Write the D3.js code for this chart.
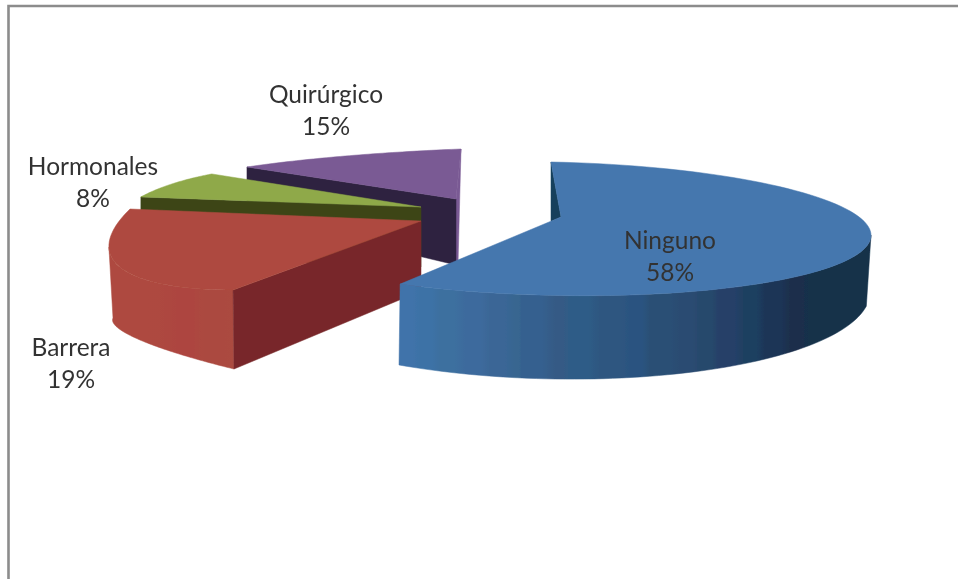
<!DOCTYPE html>
<html><head><meta charset="utf-8">
<style>html,body{margin:0;padding:0;background:#fff}svg{display:block}</style>
<script src="https://d3js.org/d3.v7.min.js"></script></head>
<body><svg id="c" width="958" height="579"></svg>
<script>
const categories = ["Ninguno","Barrera","Hormonales","Quirúrgico"];
const values = [58,19,8,15];

// 3D projection of each exploded slice: point(angle) = c + u*sin(angle) + v*cos(angle)
const projections = [
 {top:{c:[552.4,228.7],u:[318.6,6.3],v:[-1.4,-66.7]}, base:{c:[548,285],u:[322,4.9],v:[-7,-94]},
  apex:[561,217], apexDepth:0, startDepth:0, skinTop:[208.8,90], skinBase:[208.8,100]},
 {top:{c:[472.8,162.6],u:[355.4,-60.9],v:[78.2,-111.9]}, base:{c:[373,362],u:[260,44],v:[15.7,-32.2]},
  apex:[421,221], apexDepth:70, skinTop:[208.8,257], skinBase:[208.8,270]},
 {top:{c:[313,231.9],u:[183.7,27.6],v:[80.7,-60.6]}, apex:[421,207], apexDepth:60, startDepth:60},
 {top:{c:[427.5,174],u:[247.5,-9.5],v:[33.5,-25]}, apex:[456,199], apexDepth:66, startDepth:48}
];
const topColors = ["#4577ae","#ae4a3f","#8fa949","#7a5a94"];
const cutColors = ["#17405c","#78282a","#3c4519","#2e2340"];
// banded skin shading: [page x where the band starts, colour]
const skinBands = [
 [[400,"#4173aa"],[420,"#3c72a6"],[440,"#3d6f9f"],[465,"#3e6b9d"],[490,"#3a6696"],[515,"#376690"],[522,"#35608f"],[555,"#345a85"],[570,"#2d5c87"],[600,"#2f5780"],[630,"#2b5380"],[650,"#2a5075"],[680,"#2b4c72"],[700,"#27486c"],[720,"#253f68"],[745,"#1e3f60"],[765,"#1b3557"],[790,"#1c2f4c"],[810,"#13304a"],[875,"#13304a"]],
 [[100,"#ae4a3f"],[177,"#ad4540"],[205,"#ab4a40"],[236,"#ab4b40"]]
];
const labelPos = [[670,249],[71,356],[93,175],[326,103]];

const svg = d3.select("#c");
const defs = svg.append("defs");
defs.append("filter").attr("id","soft").append("feGaussianBlur").attr("stdDeviation",0.45);

svg.append("path").attr("d","M8.5,579V6H958").attr("fill","none").attr("stroke","#8c8c8c").attr("stroke-width",2.6);

const root = svg.append("g").attr("filter","url(#soft)");
const rad = d => d*Math.PI/180;
const at = (p,a) => [p.c[0]+p.u[0]*Math.sin(a)+p.v[0]*Math.cos(a), p.c[1]+p.u[1]*Math.sin(a)+p.v[1]*Math.cos(a)];
const poly = pts => d3.line()(pts)+"Z";
const arcPts = (p,a0,a1,n=48) => d3.range(n+1).map(i=>at(p,a0+(a1-a0)*i/n));

const arcs = d3.pie().sort(null).value(d=>d)(values);

function fill(pts,color){
  root.append("path").attr("d",poly(pts)).attr("fill",color)
    .attr("stroke",color).attr("stroke-width",0.5).attr("stroke-linejoin","round");
}
function drawSkin(i){
  const pr = projections[i], bands = skinBands[i];
  const x0 = bands[0][0], x1 = bands[bands.length-1][0];
  const off = d3.scaleLinear().domain([x0,x1]).range([0,1]);
  const g = defs.append("linearGradient").attr("id","skin"+i).attr("gradientUnits","userSpaceOnUse")
    .attr("x1",x0).attr("x2",x1).attr("y1",0).attr("y2",0);
  bands.forEach((b,k)=>{
    g.append("stop").attr("offset",off(b[0])).attr("stop-color",b[1]);
    if(k<bands.length-1) g.append("stop").attr("offset",off(b[0]+0.6*(bands[k+1][0]-b[0]))).attr("stop-color",b[1]);
  });
  const [t0,t1] = pr.skinTop.map(rad), [b0,b1] = pr.skinBase.map(rad);
  fill([...arcPts(pr.top,t0,t1,64),...arcPts(pr.base,b1,b0,64)],"url(#skin"+i+")");
}

// back to front: Quirúrgico, Hormonales, Barrera, Ninguno
{
  const i=3,a=arcs[i],pr=projections[i];
  const s=at(pr.top,a.startAngle), e=at(pr.top,a.endAngle);
  fill([e,pr.apex,[pr.apex[0],pr.apex[1]+pr.apexDepth],[pr.apex[0]+2,pr.apex[1]+pr.apexDepth]],topColors[i]);
  fill([s,pr.apex,[pr.apex[0],pr.apex[1]+pr.apexDepth],[s[0],s[1]+pr.startDepth]],cutColors[i]);
  fill([pr.apex,...arcPts(pr.top,a.startAngle,a.endAngle)],topColors[i]);
}
{
  const i=2,a=arcs[i],pr=projections[i];
  const s=at(pr.top,a.startAngle);
  fill([s,pr.apex,[pr.apex[0],pr.apex[1]+pr.apexDepth],[s[0],s[1]+pr.startDepth]],cutColors[i]);
  fill([pr.apex,...arcPts(pr.top,a.startAngle,a.endAngle)],topColors[i]);
}
{
  const i=1,a=arcs[i],pr=projections[i];
  const s=at(pr.top,a.startAngle);
  drawSkin(i);
  fill([pr.apex,[pr.apex[0],pr.apex[1]+pr.apexDepth],at(pr.base,a.startAngle),s],cutColors[i]);
  fill([pr.apex,...arcPts(pr.top,a.startAngle,a.endAngle)],topColors[i]);
}
{
  const i=0,a=arcs[i],pr=projections[i];
  const s=at(pr.top,a.startAngle), e=at(pr.top,a.endAngle);
  const t=(s[0]-pr.apex[0])/(e[0]-pr.apex[0]);
  const meet=[s[0],pr.apex[1]+t*(e[1]-pr.apex[1])];
  fill([s,pr.apex,meet],cutColors[i]);
  drawSkin(i);
  fill([pr.apex,...arcPts(pr.top,a.startAngle,a.endAngle,96)],topColors[i]);
}

const total=d3.sum(values);
const labels = root.append("g").attr("font-family","Lato,sans-serif").attr("font-size",24.5).attr("fill","#333").attr("text-anchor","middle");
categories.forEach((c,i)=>{
  const [x,y]=labelPos[i];
  labels.append("text").attr("x",x).attr("y",y).text(c);
  labels.append("text").attr("x",x).attr("y",y+32).text(d3.format(".0%")(values[i]/total));
});
</script></body></html>
